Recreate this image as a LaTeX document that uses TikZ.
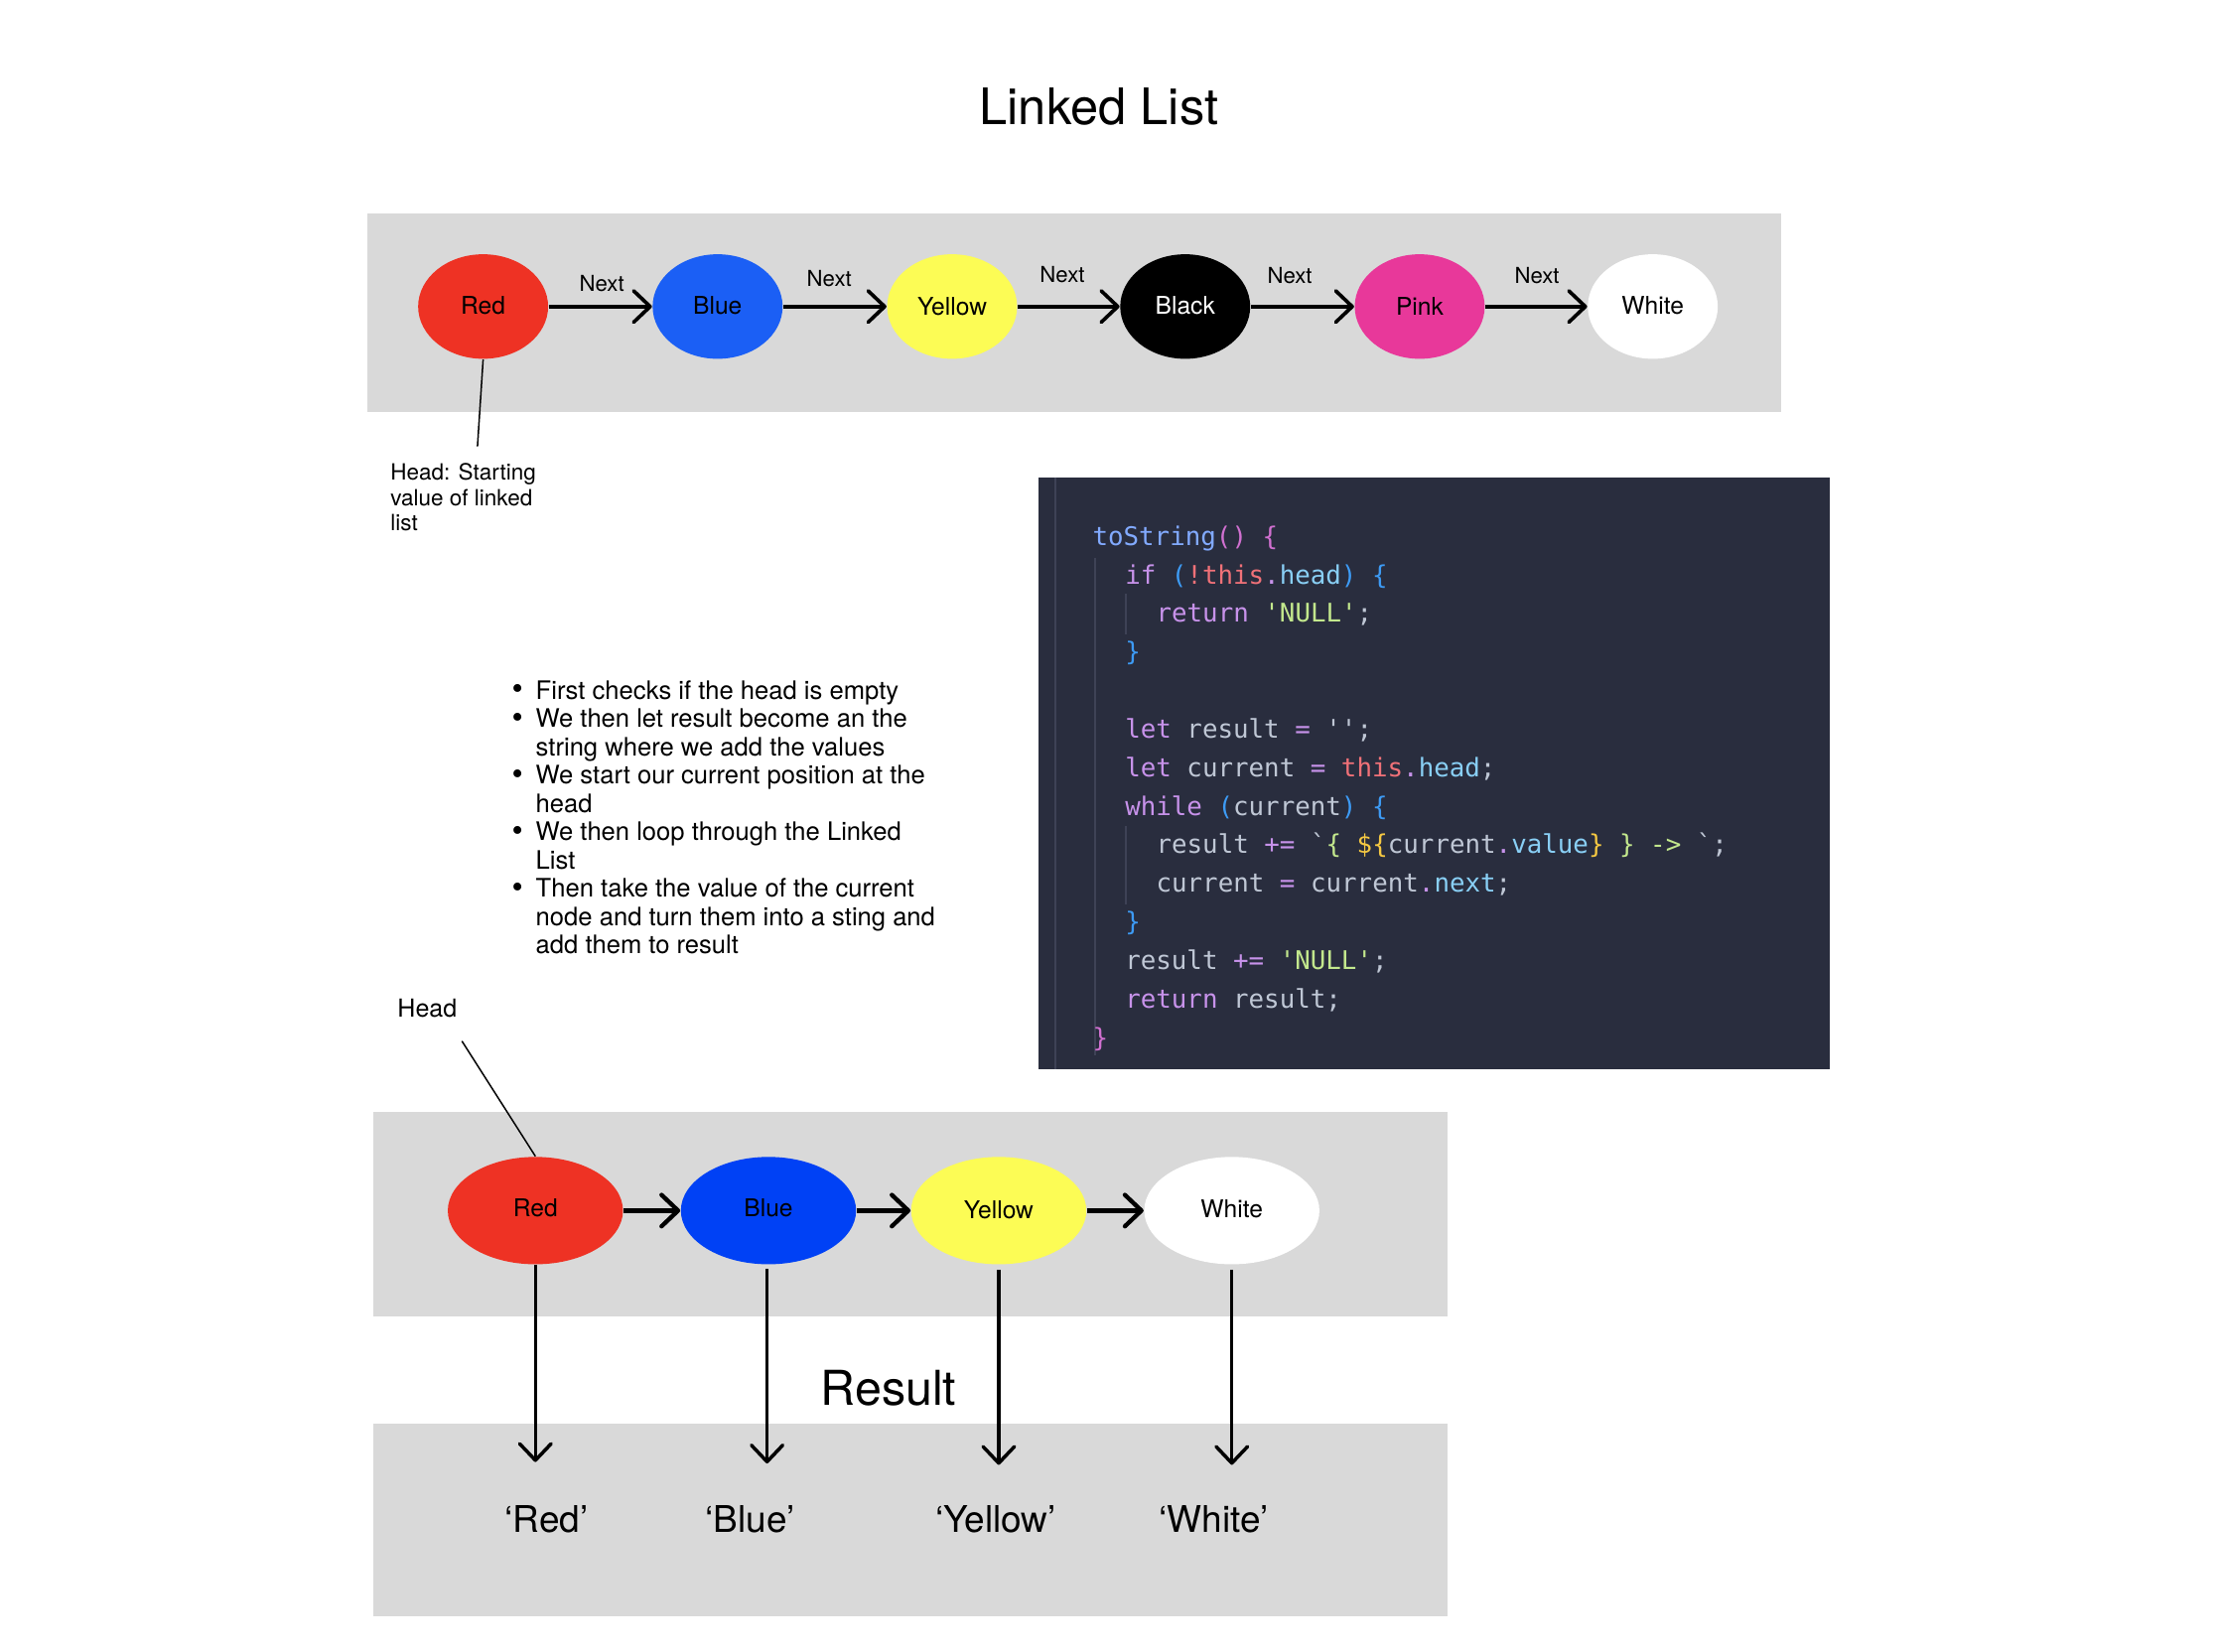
\documentclass[tikz,border=0pt]{standalone}
\usepackage{fontspec}
\setmainfont{TeX Gyre Heros}
\setmonofont{DejaVu Sans Mono}
\usetikzlibrary{shapes.geometric,arrows.meta}
\definecolor{bandgrey}{HTML}{D9D9D9}
\definecolor{cred}{HTML}{EE3224}
\definecolor{cblue}{HTML}{1B5FF5}
\definecolor{cblueb}{HTML}{0041F5}
\definecolor{cyellow}{HTML}{FCFC55}
\definecolor{cpink}{HTML}{E8389A}
\definecolor{codebg}{HTML}{292D3E}
\definecolor{guide}{HTML}{3E4256}
\definecolor{kw}{HTML}{C792EA}
\definecolor{fn}{HTML}{82AAFF}
\definecolor{th}{HTML}{F07178}
\definecolor{pr}{HTML}{89CFF5}
\definecolor{st}{HTML}{C3E88D}
\definecolor{bra}{HTML}{D070D0}
\definecolor{brb}{HTML}{3D9BF5}
\definecolor{brc}{HTML}{F5C842}
\definecolor{tx}{HTML}{BFC7D5}
\newcommand\sq{\char"27\relax}
\newcommand\bq{\char"60\relax}
\newcommand\Ckw[1]{\textcolor{kw}{#1}}
\newcommand\Cfn[1]{\textcolor{fn}{#1}}
\newcommand\Cth[1]{\textcolor{th}{#1}}
\newcommand\Cpr[1]{\textcolor{pr}{#1}}
\newcommand\Cst[1]{\textcolor{st}{#1}}
\newcommand\Cba[1]{\textcolor{bra}{#1}}
\newcommand\Cbb[1]{\textcolor{brb}{#1}}
\newcommand\Cbc[1]{\textcolor{brc}{#1}}
\newcommand\Up[2]{\raisebox{#1}{#2}}
\newcommand\Bul{\raisebox{-0.15pt}{\scalebox{1.25}{\textbullet}}}
\begin{document}
\begin{tikzpicture}[x=0.42686pt,y=-0.42686pt,
  band/.style={fill=bandgrey,draw=none},
  topnode/.style={ellipse,minimum width=39.27pt,minimum height=31.59pt,inner sep=0pt,
    font=\fontsize{7.38pt}{8.5pt}\selectfont},
  botnode/.style={ellipse,minimum width=52.93pt,minimum height=32.44pt,inner sep=0pt,
    font=\fontsize{7.38pt}{8.5pt}\selectfont},
  nextlbl/.style={anchor=base,inner sep=0pt,font=\fontsize{6.66pt}{8pt}\selectfont},
  harr/.style={line width=1.1pt,-{Straight Barb[length=5pt,width=9.5pt,round]}},
  harrb/.style={line width=1.3pt,-{Straight Barb[length=5pt,width=9.5pt,round]}},
  darr/.style={line width=1.05pt,-{Straight Barb[length=5pt,width=9.5pt,round]}},
  thinline/.style={line width=0.45pt},
  codeln/.style={anchor=base west,inner sep=0pt,text=tx,font=\ttfamily\fontsize{7.75pt}{9pt}\selectfont},
  guideln/.style={draw=guide,line width=0.5pt},
  reslbl/.style={anchor=base,inner sep=0pt,font=\fontsize{11.1pt}{13pt}\selectfont}]
\useasboundingbox (0,0) rectangle (1568,1169);
\fill[white] (0,0) rectangle (1568,1169);

% title
\node[anchor=base,inner sep=0pt,font=\fontsize{15.19pt}{18pt}\selectfont] (title) at (778,88) {Linked List};

% top band
\fill[band] (260,151) rectangle (1261,292);
\node[topnode,fill=cred] (r1) at (342,217) {\Up{0.9pt}{Red}};
\node[topnode,fill=cblue] (b1) at (508,217) {\Up{0.9pt}{Blue}};
\node[topnode,fill=cyellow] (y1) at (674,217) {Yellow};
\node[topnode,fill=black,text=white] (k1) at (839,217) {\Up{0.9pt}{Black}};
\node[topnode,fill=cpink] (p1) at (1005,217) {Pink};
\node[topnode,fill=white] (w1) at (1170,217) {\Up{0.9pt}{White}};
\draw[harr] (r1) -- (b1);
\draw[harr] (b1) -- (y1);
\draw[harr] (y1) -- (k1);
\draw[harr] (k1) -- (p1);
\draw[harr] (p1) -- (w1);
\node[nextlbl] (n1) at (426,206) {Next};
\node[nextlbl] (n2) at (587,203) {Next};
\node[nextlbl] (n3) at (752,200) {Next};
\node[nextlbl] (n4) at (913,201) {Next};
\node[nextlbl] (n5) at (1088,201) {Next};

% head annotation (top)
\coordinate (hl) at (338,316);
\draw[thinline] (r1.south) -- (hl);
\node[anchor=base west,inner sep=0pt] (headtxt) at (276,340)
  {\fontsize{6.75pt}{7.68pt}\selectfont\begin{tabular}[t]{@{}l@{}}Head: Starting\\value of linked\\list\end{tabular}};

% code block
\fill[codebg] (735,338) rectangle (1295,757);
\draw[guideln] (747,338) -- (747,757);
\draw[guideln] (775,395) -- (775,747);
\draw[guideln] (797,420) -- (797,449);
\draw[guideln] (797,585) -- (797,640);
\node[codeln] (c0) at (773,386) {\Cfn{toString}\Cba{()} \Cba{\{}};
\node[codeln] (c1) at (796,413.3) {\Ckw{if} \Cbb{(}\Cth{!this}\Ckw{.}\Cpr{head}\Cbb{)} \Cbb{\{}};
\node[codeln] (c2) at (818,440.6) {\Ckw{return} \Cst{\sq NULL\sq};};
\node[codeln] (c3) at (796,467.9) {\Cbb{\}}};
\node[codeln] (c5) at (796,522.5) {\Ckw{let} result \Ckw{=} \sq\sq;};
\node[codeln] (c6) at (796,549.8) {\Ckw{let} current \Ckw{=} \Cth{this}\Ckw{.}\Cpr{head};};
\node[codeln] (c7) at (796,577.1) {\Ckw{while} \Cbb{(}current\Cbb{)} \Cbb{\{}};
\node[codeln] (c8) at (818,604.4) {result \Ckw{+=} \bq\Cst{\{} \Cbc{\$\{}current\Ckw{.}\Cpr{value}\Cbc{\}} \Cst{\} ->} \bq;};
\node[codeln] (c9) at (818,631.7) {current \Ckw{=} current\Ckw{.}\Cpr{next};};
\node[codeln] (c10) at (796,659) {\Cbb{\}}};
\node[codeln] (c11) at (796,686.3) {result \Ckw{+=} \Cst{\sq NULL\sq};};
\node[codeln] (c12) at (796,713.6) {\Ckw{return} result;};
\node[codeln] (c13) at (773,740.9) {\Cba{\}}};

% bullet list
\node[anchor=base west,inner sep=0pt] (bullets) at (362,495)
  {\fontsize{7.68pt}{8.54pt}\selectfont\begin{tabular}[t]{@{}p{7.2pt}@{}l@{}}
  \Bul & First checks if the head is empty\\
  \Bul & We then let result become an the\\
   & string where we add the values\\
  \Bul & We start our current position at the\\
   & head\\
  \Bul & We then loop through the Linked\\
   & List\\
  \Bul & Then take the value of the current\\
   & node and turn them into a sting and\\
   & add them to result
  \end{tabular}};

% bottom part
\node[anchor=base west,inner sep=0pt,font=\fontsize{7.51pt}{9pt}\selectfont] (head2) at (281,720) {Head};
\fill[band] (264,787) rectangle (1025,932);
\fill[band] (264,1008) rectangle (1025,1144);
\node[botnode,fill=cred] (r2) at (379,857) {\Up{2pt}{Red}};
\node[botnode,fill=cblueb] (b2) at (544,857) {\Up{1.6pt}{Blue}};
\node[botnode,fill=cyellow] (y2) at (707,857) {\Up{0.3pt}{Yellow}};
\node[botnode,fill=white] (w2) at (872,857) {\Up{1.2pt}{White}};
\draw[harrb] (r2) -- (b2);
\draw[harrb] (b2) -- (y2);
\draw[harrb] (y2) -- (w2);
\coordinate (hh) at (327,737);
\draw[thinline] (hh) -- (r2.north);

\coordinate (dr) at (379,1035);
\coordinate (db) at (543,1036);
\coordinate (dy) at (707,1037);
\coordinate (dw) at (872,1037);
\draw[darr] (r2) -- (dr);
\draw[darr,shorten <=1.2pt] (b2.south -| db) -- (db);
\draw[darr,shorten <=1.5pt] (y2) -- (dy);
\draw[darr,shorten <=1.5pt] (w2) -- (dw);

\node[anchor=base,inner sep=0pt,font=\fontsize{14.52pt}{17pt}\selectfont] (result) at (629,995) {Result};
\node[reslbl] (s1) at (387,1085) {`Red'};
\node[reslbl] (s2) at (531,1085) {`Blue'};
\node[reslbl] (s3) at (705,1085) {`Yellow'};
\node[reslbl] (s4) at (859,1085) {`White'};
\end{tikzpicture}
\end{document}
